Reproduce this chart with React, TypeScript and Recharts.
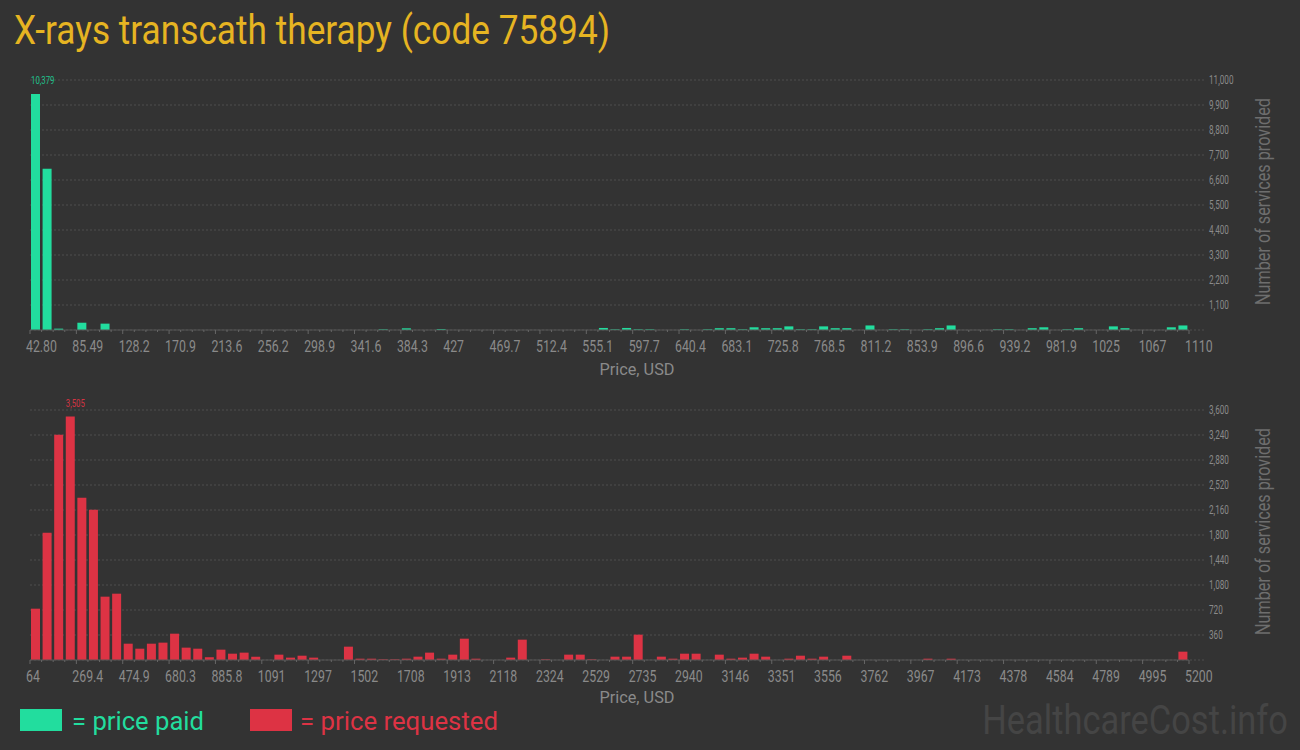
import React from 'react';
import { BarChart, Bar, XAxis, YAxis, CartesianGrid, LabelList } from 'recharts';

// number of services per price bin (100 bins each)
const paidCounts = [
  10379, 7100, 60, 0, 320, 0, 280, 0, 0, 0,
  0, 0, 0, 0, 0, 0, 0, 0, 0, 0,
  0, 0, 0, 0, 0, 0, 0, 0, 0, 0,
  30, 0, 75, 0, 0, 40, 0, 0, 0, 0,
  0, 0, 0, 0, 0, 0, 0, 0, 0, 90,
  30, 90, 30, 30, 0, 0, 30, 0, 30, 80,
  80, 30, 120, 80, 80, 160, 30, 30, 160, 80,
  80, 0, 200, 0, 30, 30, 0, 30, 80, 200,
  0, 0, 0, 30, 30, 0, 80, 120, 0, 30,
  80, 0, 0, 160, 80, 0, 0, 0, 120, 200,
];

const requestedCounts = [
  739, 1834, 3245, 3505, 2338, 2165, 912, 955, 235, 163,
  235, 250, 379, 178, 163, 40, 149, 91, 106, 48,
  0, 77, 34, 62, 34, 0, 0, 192, 19, 19,
  10, 10, 19, 48, 106, 19, 77, 307, 19, 0,
  0, 34, 293, 0, 10, 0, 77, 77, 10, 0,
  48, 48, 365, 0, 48, 19, 91, 91, 0, 77,
  19, 34, 91, 48, 0, 19, 62, 19, 48, 0,
  62, 0, 0, 0, 0, 0, 0, 19, 0, 19,
  0, 0, 0, 0, 0, 0, 0, 0, 0, 0,
  0, 0, 0, 0, 0, 0, 0, 0, 0, 120,
];

const paidTickLabels = [
  '42.80', '85.49', '128.2', '170.9', '213.6', '256.2', '298.9', '341.6', '384.3', '427',
  '469.7', '512.4', '555.1', '597.7', '640.4', '683.1', '725.8', '768.5', '811.2', '853.9',
  '896.6', '939.2', '981.9', '1025', '1067', '1110',
];

const requestedTickLabels = [
  '64', '269.4', '474.9', '680.3', '885.8', '1091', '1297', '1502', '1708', '1913',
  '2118', '2324', '2529', '2735', '2940', '3146', '3351', '3556', '3762', '3967',
  '4173', '4378', '4584', '4789', '4995', '5200',
];

const paidYTicks = [1100, 2200, 3300, 4400, 5500, 6600, 7700, 8800, 9900, 11000];
const requestedYTicks = [360, 720, 1080, 1440, 1800, 2160, 2520, 2880, 3240, 3600];

const binTicks = Array.from({ length: 101 }, (_, i) => i);

const GREEN = '#22dd9e';
const RED = '#dd3344';
const FONT = 'Roboto, sans-serif';

const CondText = ({ x, y, sx = 0.75, size, fill, anchor = 'start', children }: any) => (
  <text
    transform={`translate(${x},${y}) scale(${sx},1)`}
    fontSize={size}
    fill={fill}
    textAnchor={anchor}
    fontFamily={FONT}
  >
    {children}
  </text>
);

const XTick = ({ x, y, payload, labels }: any) => {
  const i = payload.value;
  const major = i % 4 === 0;
  return (
    <g>
      <line x1={x} x2={x} y1={y} y2={y + (major ? 4 : 2)} stroke="#666" />
      {major && (
        <CondText x={x - 4} y={y + 22} sx={0.77} size={16} fill="#8a8a8a">
          {labels[i / 4]}
        </CondText>
      )}
    </g>
  );
};

const YTick = ({ x, y, payload }: any) => (
  <CondText x={x + 20} y={y + 4} sx={0.68} size={12} fill="#8a8a8a">
    {payload.value.toLocaleString('en-US')}
  </CondText>
);

const gridLine = (p: any) => (
  <line
    key={`grid-${p.index}`}
    x1={p.x1}
    x2={p.x2 + 17}
    y1={p.y1}
    y2={p.y2}
    stroke="#4f4f4f"
    strokeDasharray="2 2"
  />
);

function Histogram({ counts, tickLabels, yTicks, yMax, color, labelColor, top, height, marginTop }: any) {
  const data = counts.map((count: number, i: number) => ({ bin: i + 0.5, count }));
  const peak = counts.indexOf(Math.max(...counts));
  return (
    <div style={{ position: 'absolute', left: 0, top }}>
      <BarChart width={1300} height={height} data={data} margin={{ top: marginTop, right: 0, bottom: 0, left: 30 }}>
        <CartesianGrid vertical={false} horizontal={gridLine} />
        <XAxis
          type="number"
          dataKey="bin"
          domain={[0, 100]}
          ticks={binTicks}
          interval={0}
          height={60}
          tickLine={false}
          tickSize={0}
          tickMargin={0}
          axisLine={{ stroke: '#555' }}
          tick={(p: any) => <XTick {...p} labels={tickLabels} />}
        />
        <YAxis
          orientation="right"
          width={111}
          domain={[0, yMax]}
          ticks={yTicks}
          interval={0}
          axisLine={false}
          tickLine={false}
          tickSize={0}
          tickMargin={0}
          tick={YTick}
        />
        <Bar dataKey="count" fill={color} barSize={9} isAnimationActive={false}>
          <LabelList
            dataKey="count"
            content={(p: any) =>
              p.index === peak ? (
                <CondText x={p.x} y={p.y - 10} sx={0.71} size={11} fill={labelColor}>
                  {Number(p.value).toLocaleString('en-US')}
                </CondText>
              ) : null
            }
          />
        </Bar>
      </BarChart>
    </div>
  );
}

export default function App() {
  return (
    <div style={{ position: 'absolute', left: 0, top: 0, width: 1300, height: 750, background: '#333333', overflow: 'hidden' }}>
      <Histogram
        counts={paidCounts}
        tickLabels={paidTickLabels}
        yTicks={paidYTicks}
        yMax={11000}
        color={GREEN}
        labelColor="#20c08c"
        top={0}
        height={390}
        marginTop={80}
      />
      <Histogram
        counts={requestedCounts}
        tickLabels={requestedTickLabels}
        yTicks={requestedYTicks}
        yMax={3600}
        color={RED}
        labelColor="#d43343"
        top={390}
        height={330}
        marginTop={20}
      />
      <svg width={1300} height={750} style={{ position: 'absolute', left: 0, top: 0, pointerEvents: 'none' }}>
        <text x={14} y={44} fontSize={40} fill="#e6b422" fontFamily={FONT} textLength={596} lengthAdjust="spacingAndGlyphs">
          X-rays transcath therapy (code 75894)
        </text>
        <text x={637} y={375} fontSize={17} fill="#8a8a8a" fontFamily={FONT} textAnchor="middle" textLength={75} lengthAdjust="spacingAndGlyphs">
          Price, USD
        </text>
        <text x={637} y={703} fontSize={17} fill="#8a8a8a" fontFamily={FONT} textAnchor="middle" textLength={75} lengthAdjust="spacingAndGlyphs">
          Price, USD
        </text>
        <text transform="translate(1270,201.5) rotate(-90)" fontSize={20} fill="#6e6e6e" fontFamily={FONT} textAnchor="middle" textLength={207} lengthAdjust="spacingAndGlyphs">
          Number of services provided
        </text>
        <text transform="translate(1270,531.5) rotate(-90)" fontSize={20} fill="#6e6e6e" fontFamily={FONT} textAnchor="middle" textLength={207} lengthAdjust="spacingAndGlyphs">
          Number of services provided
        </text>
        <rect x={20} y={709} width={42} height={22} fill={GREEN} />
        <text x={72} y={730} fontSize={26} fill={GREEN} fontFamily={FONT} textLength={132} lengthAdjust="spacingAndGlyphs">
          = price paid
        </text>
        <rect x={250} y={709} width={42} height={22} fill={RED} />
        <text x={300} y={730} fontSize={26} fill={RED} fontFamily={FONT} textLength={198} lengthAdjust="spacingAndGlyphs">
          = price requested
        </text>
        <CondText x={1288} y={734} sx={0.84} size={41} fill="#454545" anchor="end">
          HealthcareCost.info
        </CondText>
      </svg>
    </div>
  );
}
